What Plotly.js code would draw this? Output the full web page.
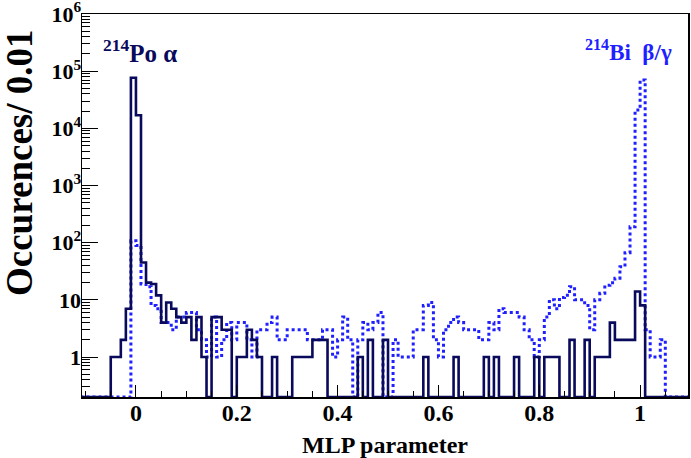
<!DOCTYPE html>
<html>
<head>
<meta charset="utf-8">
<script src="https://cdn.plot.ly/plotly-3.0.1.min.js"></script>
<style>html,body{margin:0;padding:0;background:#fff;}#chart{width:691px;height:458px;}</style>
</head>
<body>
<div id="chart"></div>
<script>
// Histogram binning: bins of width 0.01, first bin starts at -0.11
const binLow = -0.11;
const binWidth = 0.01;

// 214Po alpha events (solid), counts per bin from x = -0.11 to 1.09
const alphaCounts = [
  0,0,0,0,0,0, 1,1,2,7, 77000,17000,
  45,20,19,12,4,9,7,5,4,5,
  2,5,1,0,5,5,3,3,0,1,
  1,3,2,1,0,0,1,0,0,0,
  1,1,1,1,2,2,2,0,0,0,
  0,0,0,1,0,2,0,0,2,0,
  0,0,0,0,0,0,1,0,0,0,
  0,0,1,0,0,0,0,0,1,0,
  1,0,0,0,1,0,0,0,1,0,
  1,1,1,0,0,2,0,0,2,0,
  1,1,1,4,2,2,2,2,14,8,
  0,0,0,0,0,0,0,0,0
];

// 214Bi beta/gamma events (dotted), counts per bin from x = -0.11 to 1.09
const betaCounts = [
  0,0,0,0,0,0, 0,0,0,0, 108,89,
  19,17,8,7,4,4,3,5,5,6,
  6,3,2,1,5,1,2,4,2,4,
  4,2,1,3,3,4,5,2,2,3,
  3,3,3,2,2,2,3,3,1,2,
  5,2,0,2,4,3,4,6,0,0,
  2,1,1,1,3,3,8,9,2,1,
  3,4,5,4,3,3,3,2,2,4,
  3,7,6,6,6,5,3,2,1,2,
  5,10,7,11,12,17,10,10,8,3,
  10,13,18,20,24,38,67,190,21000,70000,
  3,1,1,2,0,0,0,0,0
];

const yTickVals = [1, 10, 100, 1000, 10000, 100000, 1000000];
const yTickText = ['1', '10', '10<sup>2</sup>', '10<sup>3</sup>', '10<sup>4</sup>', '10<sup>5</sup>', '10<sup>6</sup>'];
const xTickVals = [0, 0.2, 0.4, 0.6, 0.8, 1];
const xTickText = ['0', '0.2', '0.4', '0.6', '0.8', '1'];

const yFloor = 0.2;

function stepTrace(counts, color, dash, width) {
  const xs = [], ys = [];
  for (let i = 0; i < counts.length; i++) {
    xs.push(binLow + i * binWidth);
    ys.push(counts[i] > 0 ? counts[i] : yFloor);
  }
  xs.push(binLow + counts.length * binWidth);
  ys.push(counts[counts.length - 1] > 0 ? counts[counts.length - 1] : yFloor);
  return {
    x: xs, y: ys, type: 'scatter', mode: 'lines',
    line: {shape: 'hv', color: color, width: width, dash: dash},
    hoverinfo: 'skip', showlegend: false
  };
}

const solidColor = '#0a0a5c';
const dotColor = '#1f1fff';

const data = [
  stepTrace(betaCounts, dotColor, 'dot', 3),
  stepTrace(alphaCounts, solidColor, 'solid', 2.6)
];

const font = 'Liberation Serif, Times New Roman, serif';
const W = 606, H = 383, L = 82, T = 14;
function px(x) { return (x - L) / W; }
function py(y) { return (T + H - y) / H; }

const layout = {
  width: 691, height: 458,
  margin: {l: 82, r: 3, t: 14, b: 61},
  paper_bgcolor: '#ffffff', plot_bgcolor: '#ffffff',
  showlegend: false,
  font: {family: font, color: '#000'},
  xaxis: {
    range: [-0.107, 1.095],
    tickvals: xTickVals, ticktext: xTickText,
    ticks: 'inside', ticklen: 12, tickwidth: 1, tickcolor: '#000',
    minor: {dtick: 0.05, tick0: 0, ticks: 'inside', ticklen: 6, tickwidth: 1, tickcolor: '#000'},
    showgrid: false, zeroline: false,
    showline: true, linecolor: '#000', linewidth: 1.5, mirror: true,
    tickfont: {family: font, size: 24, color: '#000', weight: 'bold'},
    ticklabelstandoff: -6,
    title: {text: '<b>MLP parameter</b>', font: {family: font, size: 24, color: '#000'}, standoff: 14}
  },
  yaxis: {
    type: 'log',
    range: [Math.log10(yFloor), 6.0005],
    tickvals: yTickVals, ticktext: yTickText,
    ticks: 'inside', ticklen: 16, tickwidth: 1, tickcolor: '#000',
    minor: {dtick: 'D1', ticks: 'inside', ticklen: 8, tickwidth: 1, tickcolor: '#000'},
    showgrid: false, zeroline: false,
    showline: true, linecolor: '#000', linewidth: 1.5, mirror: true,
    tickfont: {family: font, size: 22, color: '#000', weight: 'bold'},
    ticklabelstandoff: -5,
    ticklabeloverflow: 'allow'
  },
  annotations: [
    {xref: 'paper', yref: 'paper', x: px(20), y: py(163), xanchor: 'center', yanchor: 'middle',
     textangle: -90, text: '<b>Occurences/ 0.01</b>', showarrow: false,
     font: {family: font, size: 37, color: '#000'}},
    {xref: 'paper', yref: 'paper', x: px(101), y: py(69), xanchor: 'left', yanchor: 'bottom',
     text: '<b><sup>214</sup>Po α</b>', showarrow: false, font: {family: font, size: 25, color: solidColor}},
    {xref: 'paper', yref: 'paper', x: px(583), y: py(67), xanchor: 'left', yanchor: 'bottom',
     text: '<b><sup>214</sup>Bi  β/γ</b>', showarrow: false, font: {family: font, size: 23, color: dotColor}}
  ]
};

Plotly.newPlot('chart', data, layout, {staticPlot: true, displayModeBar: false});
</script>
</body>
</html>
